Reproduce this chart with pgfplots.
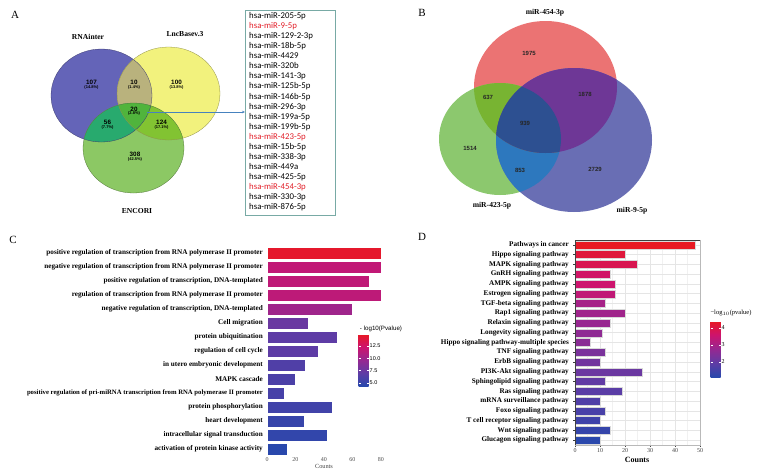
\documentclass[border=0pt]{standalone}
\usepackage{pgfplots}
\pgfplotsset{compat=1.18}
\usepackage{pgfplotstable}
\usepackage{fontspec}
\setmainfont{Liberation Serif}
\setsansfont{Liberation Sans}
\newfontfamily\listfont{Carlito}
\usetikzlibrary{arrows.meta}

% Venn colours (A)
\definecolor{vBlue}{RGB}{100,100,184}
\definecolor{vYel}{RGB}{242,242,125}
\definecolor{vGrn}{RGB}{140,200,100}
\definecolor{vBY}{RGB}{185,178,125}
\definecolor{vBG}{RGB}{40,170,110}
\definecolor{vYG}{RGB}{130,195,50}
\definecolor{vBYG}{RGB}{80,180,60}
% Venn colours (B)
\definecolor{wRed}{RGB}{235,115,115}
\definecolor{wGrn}{RGB}{140,200,110}
\definecolor{wBlu}{RGB}{105,110,180}
\definecolor{wRG}{RGB}{120,180,50}
\definecolor{wRB}{RGB}{110,55,150}
\definecolor{wGB}{RGB}{45,120,190}
\definecolor{wRGB}{RGB}{45,80,145}
\definecolor{listred}{RGB}{225,30,40}
\definecolor{boxline}{RGB}{120,170,165}
\definecolor{arrowblue}{RGB}{70,130,190}

\pgfplotsset{
  colormap={pv}{rgb255=(40,72,172) rgb255=(95,60,165) rgb255=(150,40,145) rgb255=(205,20,110) rgb255=(232,25,35)},
}

% GO terms: position from top, gene count, -log10(P)
\pgfplotstableread{
pos count logp
1  80 14.6
2  80 11.7
3  72 11.6
4  80 11.5
5  60 10.1
6  29 7.55
7  49 7.0
8  36 7.0
9  27 6.3
10 20 6.1
11 12 5.9
12 46 5.6
13 26 5.1
14 42 4.9
15 14 4.45
}\goTab

% KEGG pathways: position from top, gene count, -log10(p)
\pgfplotstableread{
pos count logp
1  48 4.40
2  20 4.14
3  25 3.90
4  14 3.67
5  16 3.58
6  16 3.38
7  12 3.00
8  20 2.90
9  14 2.78
10 11 2.65
11 6  2.58
12 12 2.33
13 10 2.20
14 27 2.10
15 12 1.95
16 19 1.85
17 10 1.70
18 12 1.60
19 10 1.45
20 14 1.30
21 10 1.13
}\keggTab

% one bar per row, coloured from the colormap by its -log10(p)
\newcommand\mappedbars[4]{%
  \pgfplotstablegetrowsof{#1}%
  \pgfmathtruncatemacro\lastrow{\pgfplotsretval-1}%
  \foreach \rowi in {0,...,\lastrow}{%
    \pgfplotstablegetelem{\rowi}{count}\of#1\let\barx\pgfplotsretval
    \pgfplotstablegetelem{\rowi}{pos}\of#1\let\bary\pgfplotsretval
    \pgfplotstablegetelem{\rowi}{logp}\of#1\let\barm\pgfplotsretval
    \pgfmathtruncatemacro\barc{1000*(\barm-#2)/(#3-#2)}%
    \edef\barcmd{\noexpand\addplot[bar shift=0pt, color of colormap={\barc}, fill=., draw=#4, line width=0.3pt] coordinates {(\barx,\bary)};}%
    \barcmd
  }%
}

\newcommand\vennlab{\bfseries\fontsize{7.6}{9}\selectfont}
\newcommand\vnum{\sffamily\bfseries\fontsize{6.3}{7}\selectfont}
\newcommand\vpct{\sffamily\bfseries\fontsize{4}{5}\selectfont}
\newcommand\panel{\fontsize{11}{12}\selectfont}

\begin{document}
\begin{tikzpicture}
\path (0pt,0pt) rectangle (759pt,474pt);

% ---------- canvas in pixel units (y downwards) for the Venn panels and free text
\begin{axis}[at={(0pt,0pt)}, anchor=south west, scale only axis,
  width=759pt, height=474pt, xmin=0, xmax=759, ymin=0, ymax=474,
  y dir=reverse, hide axis, clip=false, enlargelimits=false]

% ---- panel A
\fill[vBlue] (axis cs:101.5,95.5) ellipse [x radius=50.5pt, y radius=46.5pt];
\fill[vYel] (axis cs:168.5,93.5) ellipse [x radius=51.5pt, y radius=46.5pt];
\fill[vGrn] (axis cs:133.5,148) ellipse [x radius=50.5pt, y radius=45pt];
\begin{scope}
  \clip (axis cs:168.5,93.5) ellipse [x radius=51.5pt, y radius=46.5pt];
  \fill[vYG] (axis cs:133.5,148) ellipse [x radius=50.5pt, y radius=45pt];
\end{scope}
\begin{scope}
  \clip (axis cs:101.5,95.5) ellipse [x radius=50.5pt, y radius=46.5pt];
  \fill[vBY] (axis cs:168.5,93.5) ellipse [x radius=51.5pt, y radius=46.5pt];
  \fill[vBG] (axis cs:133.5,148) ellipse [x radius=50.5pt, y radius=45pt];
  \clip (axis cs:168.5,93.5) ellipse [x radius=51.5pt, y radius=46.5pt];
  \fill[vBYG] (axis cs:133.5,148) ellipse [x radius=50.5pt, y radius=45pt];
\end{scope}
\draw[vBlue!60!black, line width=0.3pt] (axis cs:101.5,95.5) ellipse [x radius=50.5pt, y radius=46.5pt];
\draw[vYel!60!black, line width=0.3pt] (axis cs:168.5,93.5) ellipse [x radius=51.5pt, y radius=46.5pt];
\draw[vGrn!60!black, line width=0.3pt] (axis cs:133.5,148) ellipse [x radius=50.5pt, y radius=45pt];

\node[font=\panel] at (axis cs:15,15) {A};
\node[font=\vennlab] at (axis cs:88,37) {RNAinter};
\node[font=\vennlab] at (axis cs:185,34) {LncBasev.3};
\node[font=\vennlab] at (axis cs:137,211) {ENCORI};

\node[font=\vnum] at (axis cs:91.5,82.5) {107};   \node[font=\vpct] at (axis cs:91.5,87) {(14.8\%)};
\node[font=\vnum] at (axis cs:134,82.5) {10};     \node[font=\vpct] at (axis cs:134,87) {(1.4\%)};
\node[font=\vnum] at (axis cs:176.5,82.5) {100};  \node[font=\vpct] at (axis cs:176.5,87) {(13.8\%)};
\node[font=\vnum] at (axis cs:134,109) {20};      \node[font=\vpct] at (axis cs:134,113.5) {(2.8\%)};
\node[font=\vnum] at (axis cs:107.5,122.5) {56};  \node[font=\vpct] at (axis cs:107.5,127) {(7.7\%)};
\node[font=\vnum] at (axis cs:161.5,122.5) {124}; \node[font=\vpct] at (axis cs:161.5,127) {(17.1\%)};
\node[font=\vnum] at (axis cs:135,154) {308};     \node[font=\vpct] at (axis cs:135,159) {(42.5\%)};

\draw[arrowblue, line width=0.5pt, -{Stealth[length=3pt, width=2.5pt]}] (axis cs:147,112) -- (axis cs:245,112);
\draw[boxline, line width=0.5pt] (axis cs:245,10) rectangle (axis cs:335,215);
\begin{scope}[every node/.style={anchor=base west, inner sep=0pt, font=\listfont\fontsize{8.8}{10}\selectfont}]
\node at (axis cs:249,18.4) {hsa-miR-205-5p};
\node[text=listred] at (axis cs:249,28.5) {hsa-miR-9-5p};
\node at (axis cs:249,38.5) {hsa-miR-129-2-3p};
\node at (axis cs:249,48.6) {hsa-miR-18b-5p};
\node at (axis cs:249,58.7) {hsa-miR-4429};
\node at (axis cs:249,68.8) {hsa-miR-320b};
\node at (axis cs:249,78.8) {hsa-miR-141-3p};
\node at (axis cs:249,88.9) {hsa-miR-125b-5p};
\node at (axis cs:249,99.0) {hsa-miR-146b-5p};
\node at (axis cs:249,109.0) {hsa-miR-296-3p};
\node at (axis cs:249,119.1) {hsa-miR-199a-5p};
\node at (axis cs:249,129.2) {hsa-miR-199b-5p};
\node[text=listred] at (axis cs:249,139.2) {hsa-miR-423-5p};
\node at (axis cs:249,149.3) {hsa-miR-15b-5p};
\node at (axis cs:249,159.4) {hsa-miR-338-3p};
\node at (axis cs:249,169.5) {hsa-miR-449a};
\node at (axis cs:249,179.5) {hsa-miR-425-5p};
\node[text=listred] at (axis cs:249,189.6) {hsa-miR-454-3p};
\node at (axis cs:249,199.7) {hsa-miR-330-3p};
\node at (axis cs:249,209.7) {hsa-miR-876-5p};
\end{scope}

% ---- panel B
\fill[wRed] (axis cs:545.5,87) ellipse [x radius=71.5pt, y radius=66pt];
\fill[wGrn] (axis cs:500,139) ellipse [x radius=61pt, y radius=56pt];
\fill[wBlu] (axis cs:574,140) ellipse [x radius=78pt, y radius=72pt];
\begin{scope}
  \clip (axis cs:500,139) ellipse [x radius=61pt, y radius=56pt];
  \fill[wGB] (axis cs:574,140) ellipse [x radius=78pt, y radius=72pt];
\end{scope}
\begin{scope}
  \clip (axis cs:545.5,87) ellipse [x radius=71.5pt, y radius=66pt];
  \fill[wRG] (axis cs:500,139) ellipse [x radius=61pt, y radius=56pt];
  \fill[wRB] (axis cs:574,140) ellipse [x radius=78pt, y radius=72pt];
  \clip (axis cs:500,139) ellipse [x radius=61pt, y radius=56pt];
  \fill[wRGB] (axis cs:574,140) ellipse [x radius=78pt, y radius=72pt];
\end{scope}

\node[font=\panel] at (axis cs:422,13) {B};
\node[font=\vennlab] at (axis cs:545,13) {miR-454-3p};
\node[font=\vennlab] at (axis cs:492,206) {miR-423-5p};
\node[font=\vennlab] at (axis cs:632,211) {miR-9-5p};
\begin{scope}[every node/.style={font=\sffamily\bfseries\fontsize{6}{7}\selectfont, text=black!85}]
\node at (axis cs:529,53) {1975};
\node at (axis cs:488,97.5) {637};
\node at (axis cs:585,94) {1878};
\node at (axis cs:525,123) {939};
\node at (axis cs:470,148) {1514};
\node at (axis cs:520,170) {853};
\node at (axis cs:595,169) {2729};
\end{scope}

% ---- free text of panels C and D
\node[font=\panel] at (axis cs:13,240) {C};
\node[font=\panel] at (axis cs:422,237) {D};
\node[font=\fontsize{6.3}{7}\selectfont, text=black!75] at (axis cs:324,466) {Counts};
\node[font=\sffamily\fontsize{6.2}{7}\selectfont] at (axis cs:381,329) {- log10(Pvalue)};
\node[font=\bfseries\fontsize{8}{9}\selectfont] at (axis cs:637,459.5) {Counts};
\node[font=\fontsize{6.5}{7}\selectfont] at (axis cs:731,313) {−log$_{10}$(pvalue)};
\end{axis}

% ---------- panel C: GO terms
\begin{axis}[
  at={(267pt,228pt)}, anchor=north west,
  scale only axis, width=114pt, height=210pt,
  xbar, bar width=11.6pt,
  xmin=0, xmax=80, ymin=0.5, ymax=15.5, y dir=reverse,
  enlargelimits=false,
  axis line style={draw=none},
  major tick length=0pt,
  xtick={0,20,40,60,80},
  ytick={1,...,15},
  yticklabels={
    positive regulation of transcription from RNA polymerase II promoter,
    negative regulation of transcription from RNA polymerase II promoter,
    {positive regulation of transcription, DNA-templated},
    regulation of transcription from RNA polymerase II promoter,
    {negative regulation of transcription, DNA-templated},
    Cell migration,
    protein ubiquitination,
    regulation of cell cycle,
    in utero embryonic development,
    MAPK cascade,
    {\fontsize{6.7}{8}\selectfont positive regulation of pri-miRNA transcription from RNA polymerase II promoter},
    protein phosphorylation,
    heart development,
    intracellular signal transduction,
    activation of protein kinase activity},
  yticklabel style={font=\bfseries\fontsize{7.2}{8}\selectfont, inner sep=0pt, xshift=-4pt},
  xticklabel style={font=\fontsize{6}{7}\selectfont, text=black!70, inner sep=0pt, yshift=-1pt},
  /pgf/number format/assume math mode=true,
  colormap name=pv,
  point meta min=4.4, point meta max=14.9,
  colorbar,
  colorbar style={
    at={(350pt,140pt)}, anchor=north west,
    scale only axis, width=10pt, height=52pt,
    ytick={5,7.5,10,12.5},
    yticklabel style={font=\sffamily\fontsize{5.5}{6}\selectfont, inner sep=1pt,
      /pgf/number format/.cd, fixed, fixed zerofill, precision=1, assume math mode=true},
    axis line style={draw=none},
    major tick length=2pt, ytick style={white, line width=0.4pt},
  },
]
\mappedbars{\goTab}{4.4}{14.9}{white}
\end{axis}

% ---------- panel D: KEGG pathways
\begin{axis}[
  at={(575pt,234pt)}, anchor=north west,
  scale only axis, width=125pt, height=205pt,
  xbar, bar width=8pt,
  xmin=0, xmax=50, ymin=0.5, ymax=21.5, y dir=reverse,
  enlargelimits=false,
  axis line style={gray!55, line width=0.4pt},
  tick pos=left, tick align=outside, major tick length=2pt, minor tick length=0pt,
  tick style={black!75, line width=0.4pt},
  xtick={0,10,...,50}, minor xtick={5,15,...,45},
  ytick={1,...,21},
  yticklabels={
    Pathways in cancer,
    Hippo signaling pathway,
    MAPK signaling pathway,
    GnRH signaling pathway,
    AMPK signaling pathway,
    Estrogen signaling pathway,
    TGF-beta signaling pathway,
    Rap1 signaling pathway,
    Relaxin signaling pathway,
    Longevity signaling pathway,
    Hippo signaling pathway-multiple species,
    TNF signaling pathway,
    ErbB signaling pathway,
    PI3K-Akt signaling pathway,
    Sphingolipid signaling pathway,
    Ras signaling pathway,
    mRNA surveillance pathway,
    Foxo signaling pathway,
    T cell receptor signaling pathway,
    Wnt signaling pathway,
    Glucagon signaling pathway},
  yticklabel style={font=\bfseries\fontsize{7.2}{8}\selectfont, inner sep=0pt, xshift=-4pt},
  xticklabel style={font=\fontsize{6}{7}\selectfont, text=black!75, inner sep=0pt, yshift=-1pt},
  /pgf/number format/assume math mode=true,
  xmajorgrids, xminorgrids, ymajorgrids,
  major grid style={gray!20, line width=0.5pt},
  minor grid style={gray!11, line width=0.4pt},
  colormap name=pv,
  point meta min=1.1, point meta max=4.4,
  colorbar,
  colorbar style={
    at={(702pt,153pt)}, anchor=north west,
    scale only axis, width=10pt, height=56pt,
    ytick={2,3,4},
    yticklabel style={font=\fontsize{6}{7}\selectfont, inner sep=1pt,
      /pgf/number format/assume math mode=true},
    axis line style={draw=none},
    major tick length=2pt, ytick style={white, line width=0.4pt},
  },
]
\mappedbars{\keggTab}{1.1}{4.4}{white!85!black}
\draw[black!75, line width=0.5pt] (rel axis cs:0,0) -- (rel axis cs:0,1) -- (rel axis cs:1,1);
\end{axis}
\end{tikzpicture}
\end{document}
